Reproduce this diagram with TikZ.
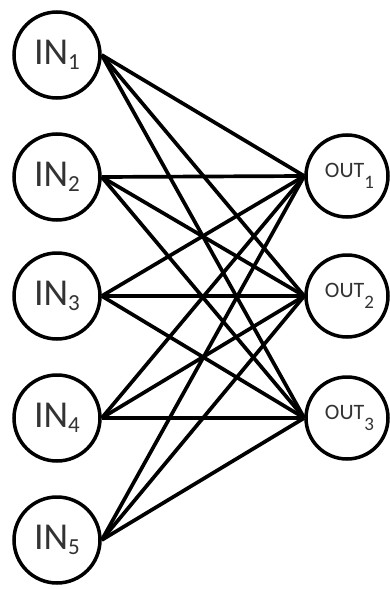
\documentclass[tikz,border=0pt]{standalone}
\usepackage{fontspec}
\setmainfont{Carlito}
\usetikzlibrary{backgrounds}
\definecolor{labelgray}{gray}{0.2}
\begin{document}
\begin{tikzpicture}[x=1pt,y=-1pt,
  neuron/.style={circle,draw=black,line width=3.5pt,fill=white,inner sep=0pt,text=labelgray},
  inunit/.style={neuron,minimum size=86pt},
  outunit/.style={neuron,minimum size=82pt},
  link/.style={line width=3.7pt,black}]
  \useasboundingbox (0,0) rectangle (389,589);
  \newcommand{\inlabel}[1]{{\fontsize{38}{38}\selectfont IN}\raisebox{-5pt}{\fontsize{23}{23}\selectfont #1}}
  \newcommand{\outlabel}[1]{{\fontsize{22}{22}\selectfont OUT}\raisebox{-11pt}{\fontsize{19}{19}\selectfont #1}}
  % input layer
  \node[inunit] (in1) at (57,55)  {\inlabel{1}};
  \node[inunit] (in2) at (57,177) {\inlabel{2}};
  \node[inunit] (in3) at (57,296) {\inlabel{3}};
  \node[inunit] (in4) at (57,418) {\inlabel{4}};
  \node[inunit] (in5) at (57,540) {\inlabel{5}};
  % output layer
  \node[outunit] (out1) at (347,176) {\hspace*{5pt}\outlabel{1}};
  \node[outunit] (out2) at (347,296) {\hspace*{5pt}\outlabel{2}};
  \node[outunit] (out3) at (347,418) {\hspace*{5pt}\outlabel{3}};
  % full connections, behind the units
  \begin{scope}[on background layer]
    \foreach \i in {1,...,5}{
      \foreach \o in {1,2,3}{
        \draw[link] (in\i.east) -- (out\o.west);
      }
    }
  \end{scope}
\end{tikzpicture}
\end{document}
